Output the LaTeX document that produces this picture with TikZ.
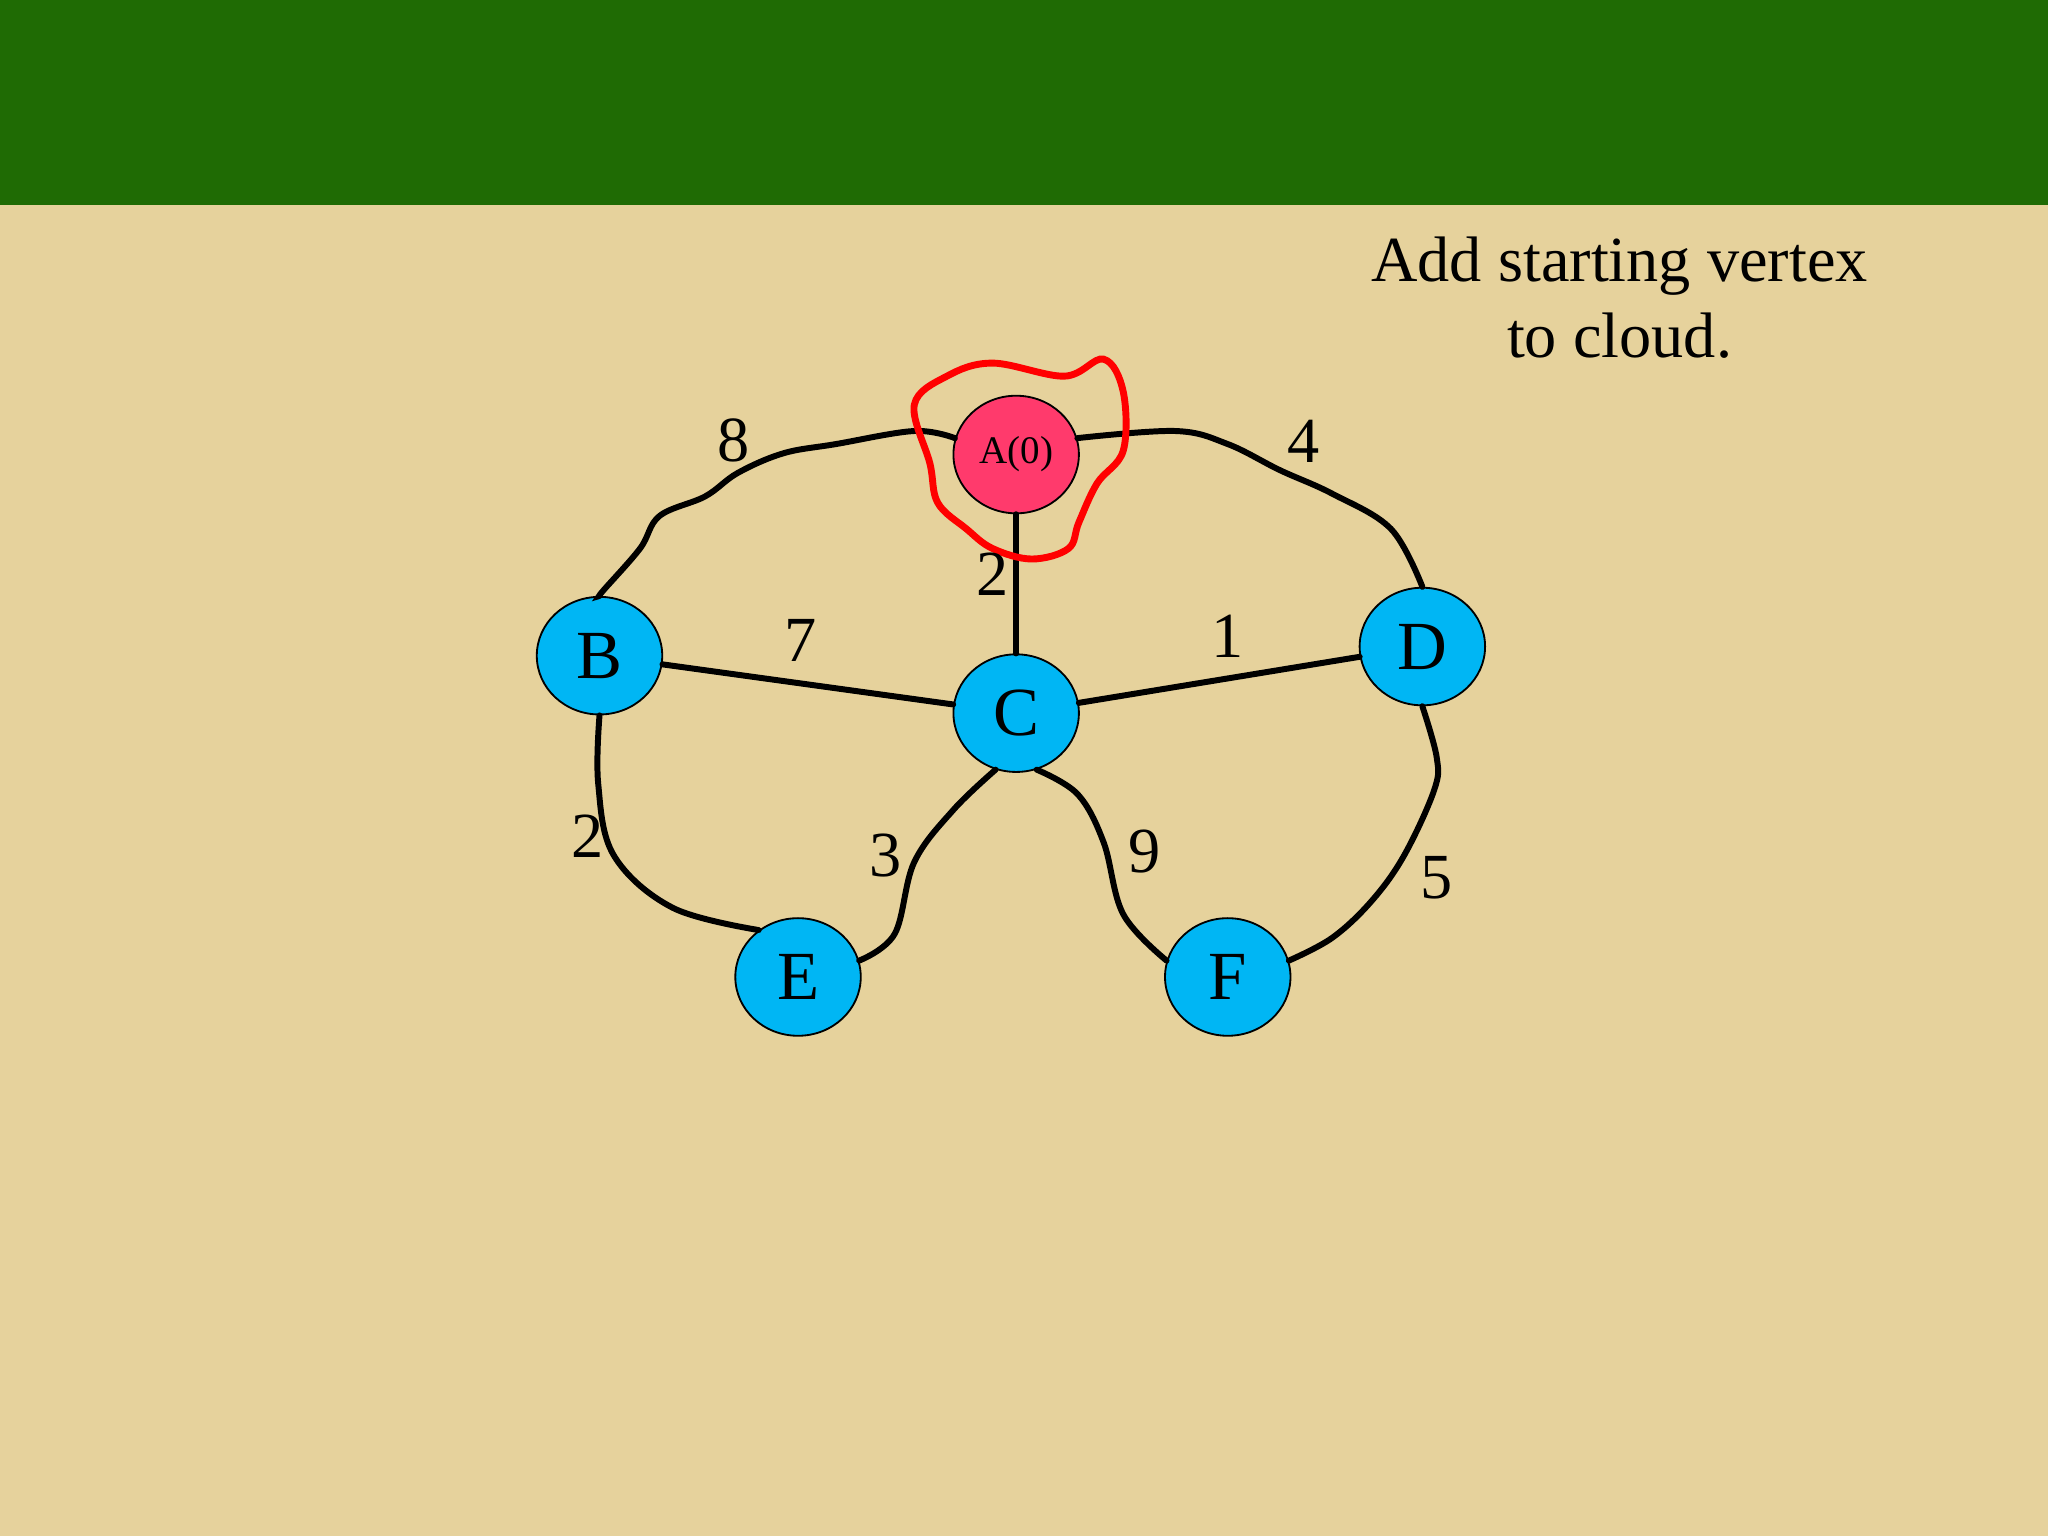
\documentclass[tikz,border=0pt]{standalone}
\usepackage{fontspec}
\setmainfont{Liberation Serif}
\definecolor{bg}{HTML}{E6D29C}
\definecolor{band}{HTML}{1F6B04}
\definecolor{vblue}{HTML}{00B6F4}
\definecolor{vred}{HTML}{FF3A6C}
\begin{document}
\begin{tikzpicture}[x=0.01cm,y=-0.01cm,
  vtx/.style={ellipse,draw=black,fill=vblue,minimum width=0.96cm,minimum height=0.9cm,inner sep=0pt,font=\fontsize{15}{15}\selectfont},
  edge/.style={line width=1.3pt,black,line cap=round},
  wt/.style={font=\fontsize{14}{14}\selectfont}]
\usetikzlibrary{shapes.geometric}
\fill[bg] (0,0) rectangle (1568,1176);
\fill[band] (0,0) rectangle (1568,157);
\node[align=center,font=\fontsize{14}{16.5}\selectfont] (txt) at (1240,228) {Add starting vertex\\to cloud.};
\node[vtx,fill=vred,font=\fontsize{8.5}{9}\selectfont] (A) at (778,348) {A(0)};
\node[vtx] (B) at (459,502) {B};
\node[vtx] (C) at (778,546) {C};
\node[vtx] (D) at (1089,495) {D};
\node[vtx] (E) at (611,748) {E};
\node[vtx] (F) at (940,748) {F};
\draw[edge] plot[smooth,tension=0.6] coordinates {(A.165) (700,330) (640,340) (600,347) (565,362) (540,380) (505,395) (490,420) (462,452) (B.north)};
\draw[edge] plot[smooth,tension=0.6] coordinates {(A.15) (900,330) (940,340) (980,360) (1020,378) (1065,405) (D.north)};
\draw[edge] (A) -- (C);
\draw[edge] (B) -- (C);
\draw[edge] (C) -- (D);
\draw[edge] plot[smooth,tension=0.6] coordinates {(B.south) (458,600) (470,655) (515,695) (E.130)};
\draw[edge] plot[smooth,tension=0.6] coordinates {(C.250) (730,620) (700,660) (685,715) (E.15)};
\draw[edge] plot[smooth,tension=0.6] coordinates {(C.290) (825,608) (845,645) (860,700) (F.165)};
\draw[edge] plot[smooth,tension=0.6] coordinates {(D.south) (1100,580) (1098,605) (1075,655) (1050,690) (1020,718) (F.15)};
\draw[red,line width=1.5pt] plot[smooth cycle,tension=0.6] coordinates {(700,310) (725,288) (760,278) (815,288) (845,275) (860,300) (860,345) (840,370) (826,400) (818,420) (790,428) (760,420) (740,405) (718,385) (712,355)};
\node[wt] (w8) at (562,337) {8};
\node[wt] (w4) at (998,338) {4};
\node[wt] (w2a) at (760,440) {2};
\node[wt] (w7) at (613,490) {7};
\node[wt] (w1) at (940,487) {1};
\node[wt] (w2b) at (450,640) {2};
\node[wt] (w3) at (678,655) {3};
\node[wt] (w9) at (876,652) {9};
\node[wt] (w5) at (1100,672) {5};
\end{tikzpicture}
\end{document}
